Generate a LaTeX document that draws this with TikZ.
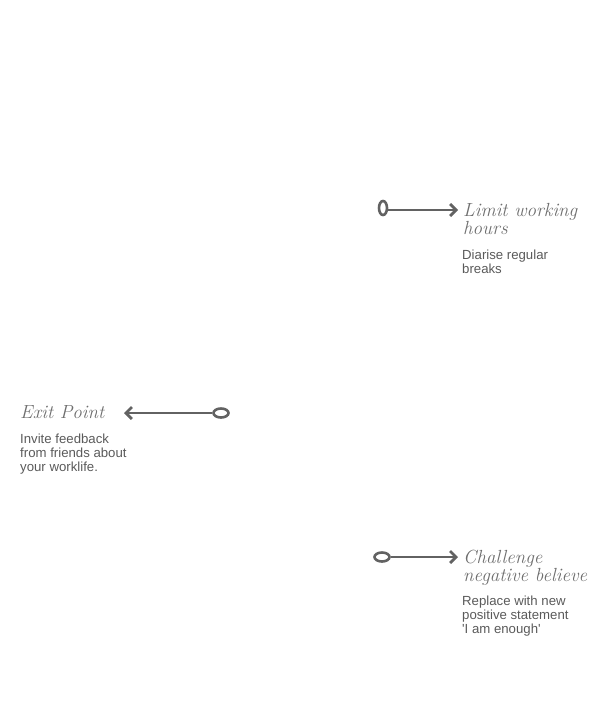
\documentclass[tikz,border=0pt]{standalone}
\usepackage{fontspec}
\setmainfont{Liberation Sans}
\newfontfamily\handfont{Latin Modern Roman}
\usetikzlibrary{arrows.meta,shapes.geometric}
\definecolor{arrowgray}{HTML}{626262}
\definecolor{bodygray}{HTML}{5A5A5A}
\definecolor{titlegray}{HTML}{6E6E6E}
\tikzset{
  conn/.style={draw=arrowgray, line width=2.8pt, -{Straight Barb[length=6pt,width=12pt,line width=2.8pt]}},
  knob/.style={draw=arrowgray, line width=2.6pt, ellipse, inner sep=0pt, fill=white},
  title/.style={anchor=north west, align=left, inner sep=0pt, text=titlegray,
    font=\fontsize{19}{17}\selectfont\handfont\itshape},
  body/.style={anchor=north west, align=left, inner sep=0pt, text=bodygray,
    font=\fontsize{13.2}{14}\selectfont},
}
\begin{document}
\begin{tikzpicture}[x=1pt,y=-1pt]
\useasboundingbox (0,0) rectangle (595,718);
% Limit working hours
\node[knob, minimum width=8pt, minimum height=14pt] (k1) at (383,208) {};
\node[title] (t1) at (463,203) {Limit working\\hours};
\coordinate (a1) at (458,210);
\draw[conn] (k1.east |- a1) -- (a1);
\node[body] (b1) at (462,250) {Diarise regular\\breaks};
% Exit point
\node[knob, minimum width=15pt, minimum height=9pt] (k2) at (221,413) {};
\coordinate (a2) at (124,413);
\draw[conn] (k2.west) -- (a2);
\node[title] (t2) at (20,405) {Exit Point};
\node[body] (b2) at (20,434) {Invite feedback\\from friends about\\your worklife.};
% Challenge
\node[knob, minimum width=15pt, minimum height=9pt] (k3) at (382,557) {};
\coordinate (a3) at (458,557);
\draw[conn] (k3.east) -- (a3);
\node[title] (t3) at (463,550) {Challenge\\negative believe};
\node[body] (b3) at (462,596) {Replace with new\\positive statement\\\textquotesingle I am enough\textquotesingle};
\end{tikzpicture}
\end{document}
